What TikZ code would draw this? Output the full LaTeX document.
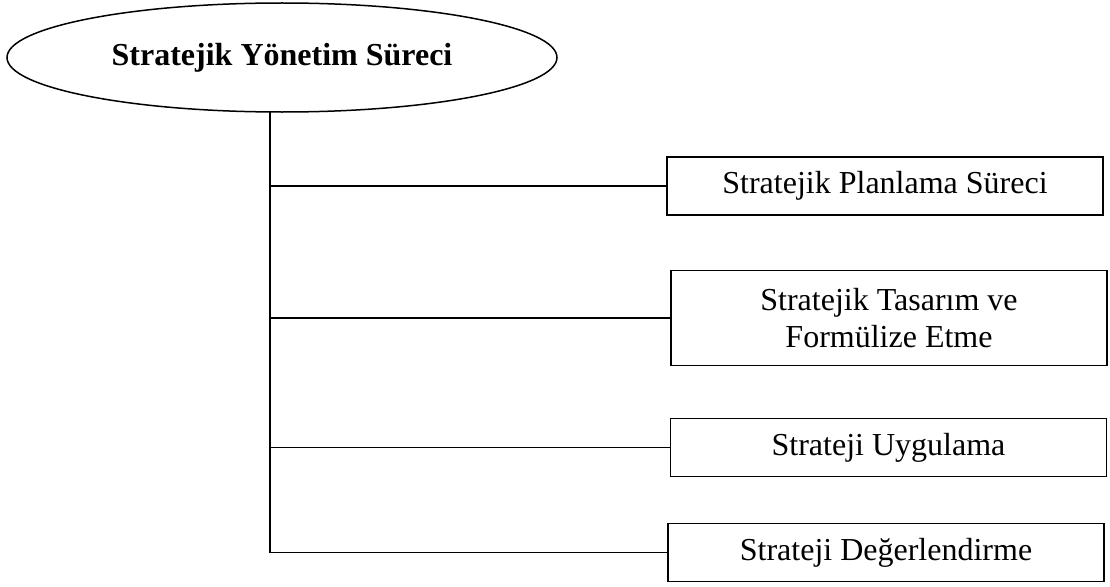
\documentclass[tikz,border=0pt]{standalone}
\usepackage{fontspec}
\setmainfont{Liberation Serif}
\usetikzlibrary{shapes.geometric}

\tikzset{
  link/.style={line width=1.6pt, black},
  head/.style={ellipse, draw, line width=1.5pt, inner sep=0pt, outer sep=0pt,
    minimum width=550pt, minimum height=109pt,
    font=\fontsize{32}{37}\selectfont\bfseries},
  stagebox/.style={rectangle, draw, line width=1.6pt, inner sep=0pt, outer sep=0pt,
    minimum width=436pt, align=center, font=\fontsize{32}{37}\selectfont},
}

\begin{document}
\begin{tikzpicture}[x=1pt,y=-1pt]
  \useasboundingbox (0,0) rectangle (1110,586);

  % main process
  \node[head] (top) at (282,57.5) {Stratejik Yönetim Süreci};

  % stages
  \node[stagebox, minimum height=58pt] (b1) at (885,186) {Stratejik Planlama Süreci};
  \node[stagebox, minimum height=95pt] (b2) at (889,318) {Stratejik Tasarım ve\\Formülize Etme};
  \node[stagebox, minimum height=58pt] (b3) at (888.5,447.5) {Strateji Uygulama};
  \node[stagebox, minimum height=58pt] (b4) at (886,552.5) {Strateji Değerlendirme};

  % spine and branches
  \coordinate (spine) at ([xshift=-12pt]top.south);
  \draw[link] (spine) -- (spine |- b4.west) -- (b4.west);
  \draw[link] (spine |- b1.west) -- (b1.west);
  \draw[link] (spine |- b2.west) -- (b2.west);
  \draw[link] (spine |- b3.west) -- (b3.west);
\end{tikzpicture}
\end{document}
